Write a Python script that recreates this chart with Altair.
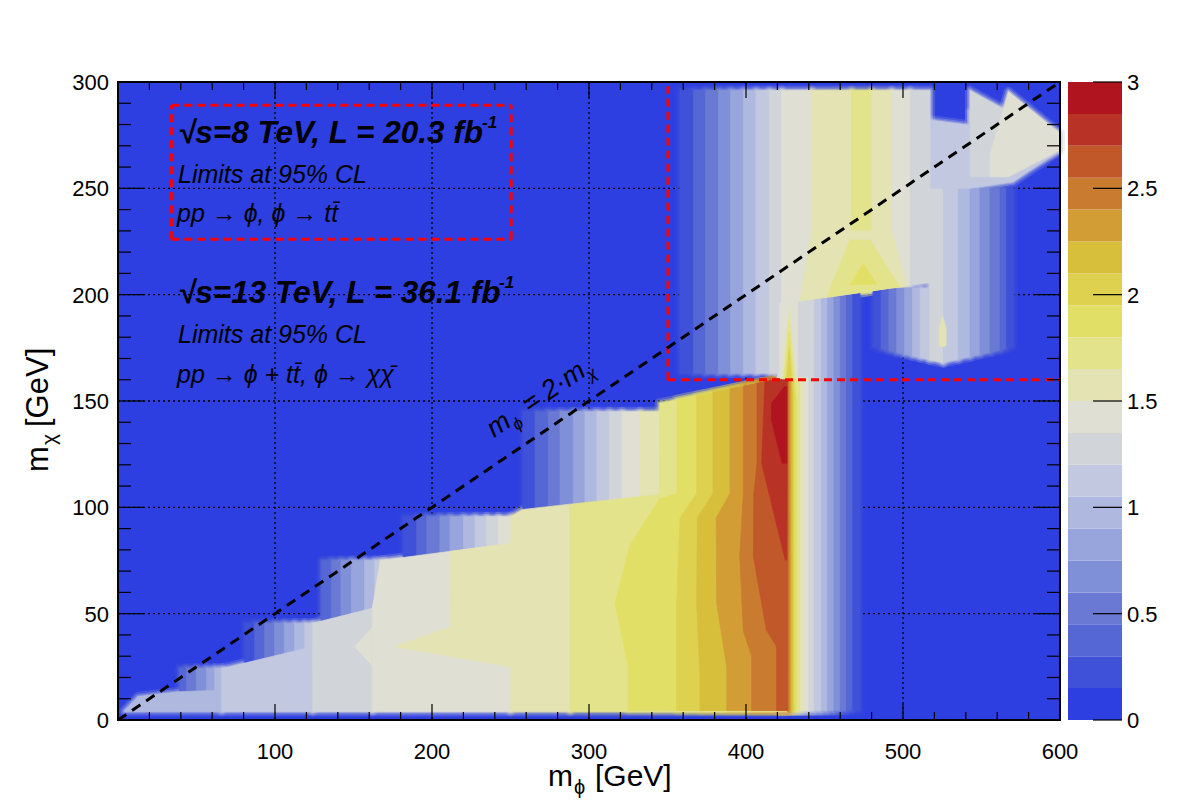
import altair as alt
import pandas as pd

PW, PH = 942, 638
FONT = "Liberation Sans"

# ---------------- colour levels ----------------
LEVEL_EDGES = [0.0, 0.15, 0.3, 0.45, 0.6, 0.75, 0.9, 1.05, 1.2, 1.35, 1.5,
               1.65, 1.8, 1.95, 2.1, 2.25, 2.4, 2.55, 2.7, 2.85, 3.0]
BAND_Z = [0.075, 0.225, 0.375, 0.525, 0.675, 0.825, 0.975, 1.125, 1.275, 1.425,
          1.575, 1.725, 1.875, 2.025, 2.175, 2.325, 2.475, 2.625, 2.775, 2.925]
PALETTE = ["#2d3fe0", "#4051d9", "#5566d5", "#6a7ad4", "#8090d8", "#98a5dc",
           "#afb9e0", "#c2c8e0", "#d1d5d9", "#dfe0d3", "#e3e3b3", "#e3e38c",
           "#e1df66", "#ddd14f", "#d8bf3b", "#d29d35", "#c97c30", "#c1582a",
           "#b83325", "#af141f"]

# ---------------- lower region: stripe blocks (edges, bands, y-range) ----------------
B1_X = [39.3, 43.5, 49.9, 56.3, 61.6, 66.0]
B1_BAND = [2, 3, 4, 5, 6]
B1_Y = [12.0, 24.3]
B2_X = [80.7, 87.0, 93.4, 99.8, 106.0, 112.5, 119.0, 124.0]
B2_BAND = [1, 2, 3, 4, 5, 6, 7]
B2_Y = [24.0, 45.5]
B3_X = [129.5, 136.0, 142.0, 148.6, 157.0, 163.5, 170.0]
B3_BAND = [2, 3, 4, 5, 6, 7]
B3_Y = [44.0, 75.0]
B4_X = [181.7, 190.2, 196.6, 205.0, 211.5, 220.0, 227.4, 234.8, 242.3, 250.0]
B4_BAND = [1, 2, 3, 4, 5, 6, 7, 8, 9]
B4_Y = [74.0, 95.6]
B5_X = [258.0, 265.6, 274.0, 281.5, 290.0, 297.4, 305.0, 313.0, 321.0, 332.5, 345.0]
B5_BAND = [1, 2, 3, 4, 5, 6, 7, 8, 9, 10]
B5_Y = [96.0, 145.0]

# plateaus / notches: (m_phi, m_chi low, m_chi high)
P0 = [(4.0, 4.0, 4.3), (12.7, 4.0, 11.0), (39.3, 4.0, 13.3), (66.0, 4.0, 14.0)]
P1 = [(66.0, 4.0, 24.3), (72.0, 4.0, 25.2), (124.0, 4.0, 34.5)]
P2 = [(124.0, 4.0, 45.5), (129.5, 4.0, 46.5), (162.0, 4.0, 52.5)]
N1 = [(150.7, 34.5, 34.5), (162.0, 25.5, 43.5)]
P3 = [(162.0, 4.0, 52.5), (167.0, 4.0, 75.0), (250.0, 4.0, 83.0)]
N2 = [(176.0, 34.5, 34.5), (212.0, 29.9, 43.9), (212.01, 29.9, 79.3), (250.0, 25.0, 83.0)]
P4A = [(250.0, 4.0, 95.6), (258.0, 4.0, 99.0), (288.0, 4.0, 101.5)]
P4B = [(288.0, 4.0, 101.5), (345.0, 4.0, 106.0), (345.01, 4.0, 149.0), (426.0, 4.0, 161.0)]
PLATEAU_BANDS = [6, 7, 8, 9, 9, 10, 10, 11]

# falling edge right of the peak
DROP_BAND = [1, 2, 3, 4, 5, 6, 7, 8, 9, 10, 11]
DROP_XR = [472.5, 467.5, 463.5, 459.5, 455.5, 451.5, 447.5, 443.0, 439.5, 436.5, 434.0]
DROP_TOP = [203.0, 203.0, 203.0, 203.0, 203.0, 203.0, 203.0, 203.0, 161.0, 161.0, 161.0]

# ---------------- upper region ----------------
LOBE_X = [481.0, 486.0, 491.0, 496.0, 501.0, 506.0, 511.0, 517.0]
LOBE_BAND = [1, 2, 3, 4, 5, 6, 7]
LOBE_BOT = [175.4, 174.6, 173.7, 172.9, 172.0, 171.2, 170.4, 169.4]
RS_X = [517.0, 525.7, 535.2, 542.7, 549.0, 555.4, 561.8, 566.0, 570.3]
RS_BAND = [8, 7, 6, 5, 4, 3, 2, 1]
RS_BOT = [169.4, 168.0, 169.6, 170.8, 171.9, 172.9, 174.0, 174.7, 175.4]
SPIKE = [(523.0, 176.0, 184.0), (525.2, 175.5, 190.0), (527.5, 176.0, 184.0)]
R7 = [(517.2, 250.0, 282.1), (542.7, 250.0, 279.7), (542.71, 250.0, 286.0),
      (570.0, 253.0, 283.0), (600.0, 268.0, 276.0)]
T1 = [(542.7, 255.4, 296.0), (567.2, 255.4, 286.0)]
T2 = [(555.6, 255.4, 266.0), (567.2, 255.4, 295.4), (600.0, 268.0, 275.8)]
U_X = [358.0, 366.5, 374.3, 382.4, 390.2, 398.3, 406.4, 414.9, 422.7, 441.8,
       467.3, 480.1, 492.8, 504.5, 517.2]
U_BAND = [1, 2, 3, 4, 5, 6, 7, 8, 9, 10, 11, 10, 9, 8]
U_BOT = [(163.0, 163.0)] * 8 + [(196.0, 197.8), (197.8, 200.5), (200.5, 201.8),
                                (201.8, 203.2), (203.2, 204.4), (204.4, 205.7)]
U_TOP = 296.0
F10 = [(434.4, 197.0, 197.0), (441.8, 197.8, 230.0), (492.8, 203.2, 230.0), (502.3, 204.2, 204.2)]
F11 = [(451.4, 198.8, 198.8), (466.2, 200.3, 225.7), (479.0, 201.7, 225.7), (498.0, 203.7, 203.7)]
F12 = [(466.0, 204.5, 204.5), (474.7, 204.8, 214.7), (483.2, 205.0, 205.0)]

# ---------------- hot core: (m_chi, m_phi left, m_phi right) ----------------
H12 = [(4.5, 325.0, 432.0), (25.0, 325.0, 432.0), (55.0, 316.6, 432.0), (82.0, 326.0, 432.0),
       (104.0, 345.0, 432.0), (106.5, 356.0, 432.0), (150.7, 356.0, 432.0), (160.9, 424.0, 431.0)]
H13 = [(4.5, 355.8, 430.5), (55.0, 355.8, 430.5), (95.0, 358.0, 430.5), (106.5, 368.6, 430.5),
       (152.5, 368.6, 430.5), (160.9, 424.0, 430.0)]
H14 = [(4.5, 370.7, 429.5), (20.0, 370.7, 429.5), (55.0, 368.6, 429.5), (95.0, 369.0, 429.5),
       (106.5, 379.0, 429.5), (154.1, 379.0, 429.5), (160.9, 424.0, 429.0)]
H15 = [(4.5, 387.7, 428.5), (25.0, 387.7, 428.5), (55.0, 381.3, 428.5), (95.0, 381.0, 428.5),
       (106.5, 389.8, 428.5), (155.7, 389.8, 428.5), (160.9, 424.0, 428.5)]
H16 = [(4.5, 403.6, 427.5), (30.0, 403.6, 427.5), (42.0, 398.3, 427.5), (77.0, 396.0, 427.5),
       (106.5, 398.3, 427.5), (157.0, 398.3, 427.5), (160.9, 424.0, 427.5)]
H17 = [(4.5, 419.5, 426.5), (34.5, 419.5, 426.5), (42.3, 413.0, 426.5), (76.8, 404.7, 426.5),
       (106.0, 405.0, 426.5), (120.7, 407.0, 426.5), (158.3, 407.0, 426.5), (160.9, 424.0, 426.5)]
H18 = [(75.2, 425.0, 426.0), (120.7, 410.0, 426.2), (159.0, 412.0, 426.2), (160.9, 424.0, 426.0)]
H19 = [(120.7, 423.0, 426.0), (141.0, 416.3, 426.0), (149.0, 416.3, 426.0), (156.7, 424.5, 426.0)]
HOT_BANDS = [12, 13, 14, 15, 16, 17, 18, 19]

# neck joining the two regions
NECK9 = [(421.5, 160.5, 196.0), (433.0, 160.5, 197.2)]
NECK10 = [(423.0, 160.5, 160.5), (427.5, 160.5, 195.0), (432.0, 160.5, 160.5)]
NECK11 = [(424.0, 160.5, 160.5), (427.5, 160.5, 189.0), (431.0, 160.5, 160.5)]
NECK12 = [(425.0, 160.5, 160.5), (427.5, 160.5, 182.0), (430.0, 160.5, 160.5)]
NECK13 = [(426.0, 160.5, 160.5), (427.5, 160.5, 175.0), (429.0, 160.5, 160.5)]
NECK_BANDS = [9, 10, 11, 12, 13]

# axes / annotations
XT_LABELS = [100, 200, 300, 400, 500, 600]
YT_LABELS = [0, 50, 100, 150, 200, 250, 300]
CB_TICKS = [0, 0.5, 1, 1.5, 2, 2.5, 3]
CB_LABELS = ["0", "0.5", "1", "1.5", "2", "2.5", "3"]
GRID_X = [100, 200, 300, 400, 500]
GRID_Y = [50, 100, 150, 200, 250]
DIAG_X = [0, 600]
DIAG_Y = [0, 300]
BOX1 = [(34.0, 226.0, 250.4, 226.0), (34.0, 289.1, 250.4, 289.1),
        (34.0, 226.0, 34.0, 289.1), (250.4, 226.0, 250.4, 289.1)]
BOX2 = [(350.3, 160.0, 600.0, 160.0), (350.3, 160.0, 350.3, 298.0)]

# ---------------- build tables ----------------
vrows, hrows, nrows = [], [], []
counter = [0]


def add(rows, pts, band, horizontal=False):
    sid = "s%04d" % counter[0]
    counter[0] += 1
    for p in pts:
        if horizontal:
            rows.append({"sid": sid, "y": p[0], "xlo": p[1], "xhi": p[2], "z": BAND_Z[band]})
        else:
            rows.append({"sid": sid, "x": p[0], "ylo": p[1], "yhi": p[2], "z": BAND_Z[band]})


def add_block(xs, bands, yr):
    for i, b in enumerate(bands):
        add(vrows, [(xs[i], yr[0], yr[1]), (xs[i + 1], yr[0], yr[1])], b)


for xs_, bs, yr in [(B1_X, B1_BAND, B1_Y), (B2_X, B2_BAND, B2_Y), (B3_X, B3_BAND, B3_Y),
                    (B4_X, B4_BAND, B4_Y), (B5_X, B5_BAND, B5_Y)]:
    add_block(xs_, bs, yr)
for pts, b in zip([P0, P1, P2, N1, P3, N2, P4A, P4B], PLATEAU_BANDS):
    add(vrows, pts, b)
for b, xr, top in zip(DROP_BAND, DROP_XR, DROP_TOP):
    add(vrows, [(420.0, 4.5, top), (xr, 4.5, top)], b)
for i, b in enumerate(LOBE_BAND):
    add(vrows, [(LOBE_X[i], LOBE_BOT[i], 203.0), (LOBE_X[i + 1], LOBE_BOT[i + 1], 203.0)], b)
for i, b in enumerate(RS_BAND):
    add(vrows, [(RS_X[i], RS_BOT[i], 250.0), (RS_X[i + 1], RS_BOT[i + 1], 250.0)], b)
add(vrows, SPIKE, 10)
add(vrows, R7, 7)
add(vrows, T1, 8)
add(vrows, T2, 9)
for i, b in enumerate(U_BAND):
    add(vrows, [(U_X[i], U_BOT[i][0], U_TOP), (U_X[i + 1], U_BOT[i][1], U_TOP)], b)
add(vrows, F10, 10)
add(vrows, F11, 11)
add(vrows, F12, 12)
for pts, b in zip([H12, H13, H14, H15, H16, H17, H18, H19], HOT_BANDS):
    add(hrows, pts, b, horizontal=True)
for pts, b in zip([NECK9, NECK10, NECK11, NECK12, NECK13], NECK_BANDS):
    add(nrows, pts, b)

dfV = pd.DataFrame(vrows)
dfH = pd.DataFrame(hrows)
dfN = pd.DataFrame(nrows)

xs = alt.Scale(domain=[0, 600], nice=False, zero=False)
ys = alt.Scale(domain=[0, 300], nice=False, zero=False)
cscale = alt.Scale(type="threshold", domain=LEVEL_EDGES[1:-1], range=PALETTE)
one = pd.DataFrame({"a": [0]})

background = alt.Chart(one).mark_rect(color=PALETTE[0]).encode(
    x=alt.value(0), x2=alt.value(PW), y=alt.value(0), y2=alt.value(PH))


def varea(df, halo=None):
    if halo is None:
        m = alt.Chart(df).mark_area(strokeWidth=0.7, interpolate="linear")
    else:
        m = alt.Chart(df).mark_area(fillOpacity=0, strokeWidth=halo[0], strokeOpacity=halo[1],
                                    strokeJoin="round", interpolate="linear")
    return m.encode(
        x=alt.X("x:Q", scale=xs, axis=None),
        y=alt.Y("ylo:Q", scale=ys, axis=None),
        y2="yhi:Q",
        color=alt.Color("z:Q", scale=cscale, legend=None),
        stroke=alt.Stroke("z:Q", scale=cscale, legend=None),
        detail="sid:N",
    )


def harea(df, halo=None):
    if halo is None:
        m = alt.Chart(df).mark_area(orient="horizontal", strokeWidth=0.7, interpolate="linear")
    else:
        m = alt.Chart(df).mark_area(orient="horizontal", fillOpacity=0, strokeWidth=halo[0],
                                    strokeOpacity=halo[1], strokeJoin="round", interpolate="linear")
    return m.encode(
        y=alt.Y("y:Q", scale=ys, axis=None),
        x=alt.X("xlo:Q", scale=xs, axis=None),
        x2="xhi:Q",
        color=alt.Color("z:Q", scale=cscale, legend=None),
        stroke=alt.Stroke("z:Q", scale=cscale, legend=None),
        detail="sid:N",
    )


HALOS = [(10, 0.18), (6, 0.3), (3, 0.45)]
halo_layers = []
for h in HALOS:
    halo_layers += [varea(dfV, h), harea(dfH, h), varea(dfN, h)]

areaV = varea(dfV)
areaN = varea(dfN)
areaH = harea(dfH)

grid_v = alt.Chart(pd.DataFrame({"g": GRID_X})).mark_rule(
    color="black", strokeWidth=1.3, strokeDash=[2, 3]).encode(
    x=alt.X("g:Q", scale=xs, axis=None), y=alt.value(0), y2=alt.value(PH))
grid_h = alt.Chart(pd.DataFrame({"g": GRID_Y})).mark_rule(
    color="black", strokeWidth=1.3, strokeDash=[2, 3]).encode(
    y=alt.Y("g:Q", scale=ys, axis=None), x=alt.value(0), x2=alt.value(PW))

boxes = pd.DataFrame([{"x": a, "y": b, "x2": c, "y2": d} for (a, b, c, d) in BOX1 + BOX2])
box_layer = alt.Chart(boxes).mark_rule(color="#ff0000", strokeWidth=3, strokeDash=[8, 5]).encode(
    x=alt.X("x:Q", scale=xs, axis=None), y=alt.Y("y:Q", scale=ys, axis=None),
    x2="x2:Q", y2="y2:Q")

diag = alt.Chart(pd.DataFrame({"x": DIAG_X, "y": DIAG_Y})).mark_line(
    color="black", strokeWidth=3, strokeDash=[10, 7]).encode(
    x=alt.X("x:Q", scale=xs, axis=None), y=alt.Y("y:Q", scale=ys, axis=None))

XT_MAJOR = [100, 200, 300, 400, 500]
XT_MINOR = [v for v in range(20, 600, 20) if v % 100]
YT_MAJOR = [50, 100, 150, 200, 250]
YT_MINOR = [v for v in range(10, 300, 10) if v % 50]


def xticks(vals, length):
    d = pd.DataFrame({"t": vals})
    b = alt.Chart(d).mark_rule(color="black", strokeWidth=1.2)
    return [b.encode(x=alt.X("t:Q", scale=xs, axis=None), y=alt.value(PH), y2=alt.value(PH - length)),
            b.encode(x=alt.X("t:Q", scale=xs, axis=None), y=alt.value(0), y2=alt.value(length))]


def yticks(vals, length):
    d = pd.DataFrame({"t": vals})
    b = alt.Chart(d).mark_rule(color="black", strokeWidth=1.2)
    return [b.encode(y=alt.Y("t:Q", scale=ys, axis=None), x=alt.value(0), x2=alt.value(length)),
            b.encode(y=alt.Y("t:Q", scale=ys, axis=None), x=alt.value(PW), x2=alt.value(PW - length))]


tick_layers = xticks(XT_MAJOR, 16) + xticks(XT_MINOR, 8) + yticks(YT_MAJOR, 26) + yticks(YT_MINOR, 13)

frame = alt.Chart(one).mark_rect(fillOpacity=0, stroke="black", strokeWidth=2).encode(
    x=alt.value(0), x2=alt.value(PW), y=alt.value(0), y2=alt.value(PH))

xlab = alt.Chart(pd.DataFrame({"v": XT_LABELS, "s": [str(v) for v in XT_LABELS]})).mark_text(
    font=FONT, fontSize=22, align="center", baseline="alphabetic", color="black").encode(
    x=alt.X("v:Q", scale=xs, axis=None), y=alt.value(PH + 39), text="s:N")
ylab = alt.Chart(pd.DataFrame({"v": YT_LABELS, "s": [str(v) for v in YT_LABELS]})).mark_text(
    font=FONT, fontSize=22, align="right", baseline="middle", color="black", dy=1).encode(
    y=alt.Y("v:Q", scale=ys, axis=None), x=alt.value(-9), text="s:N")

cb = pd.DataFrame({"lo": LEVEL_EDGES[:-1], "hi": LEVEL_EDGES[1:], "z": BAND_Z})
cbar = alt.Chart(cb).transform_calculate(a="datum.lo*100", b="datum.hi*100").mark_rect().encode(
    y=alt.Y("a:Q", scale=ys, axis=None), y2="b:Q", x=alt.value(950), x2=alt.value(1004),
    color=alt.Color("z:Q", scale=cscale, legend=None))
cbt = pd.DataFrame({"t": CB_TICKS, "s": CB_LABELS})
cbar_ticks = alt.Chart(cbt).transform_calculate(a="datum.t*100").mark_rule(
    color="black", strokeWidth=1.2).encode(
    y=alt.Y("a:Q", scale=ys, axis=None), x=alt.value(975), x2=alt.value(1004))
cbar_lab = alt.Chart(cbt).transform_calculate(a="datum.t*100").mark_text(
    font=FONT, fontSize=22, align="left", baseline="middle", color="black", dy=1).encode(
    y=alt.Y("a:Q", scale=ys, axis=None), x=alt.value(1009), text="s:N")


def txt(s, x, y, size, style="italic", weight="normal", angle=0, dx=0, dy=0, align="left"):
    return alt.Chart(one).mark_text(text=s, font=FONT, fontSize=size, fontStyle=style,
                                    fontWeight=weight, align=align, baseline="alphabetic",
                                    color="black", angle=angle, dx=dx, dy=dy).encode(
        x=alt.value(x), y=alt.value(y))


PHI = "\u03d5"
texts = [
    txt("\u221as=8 TeV, L = 20.3 fb", 60, 61, 31.5, weight="bold"),
    txt("-1", 364, 46, 17, weight="bold"),
    txt("Limits at 95% CL", 60, 101, 25),
    txt("pp \u2192 " + PHI + ", " + PHI + " \u2192 tt\u0304", 59, 140, 25),
    txt("\u221as=13 TeV, L = 36.1 fb", 60, 221, 31.5, weight="bold"),
    txt("-1", 381, 206, 17, weight="bold"),
    txt("Limits at 95% CL", 60, 261, 25),
    txt("pp \u2192 " + PHI + " + tt\u0304, " + PHI + " \u2192 \u03c7\u03c7\u0304", 59, 301, 25),
    # diagonal label
    txt("m", 376, 356, 27, angle=325.9),
    txt(PHI, 376, 356, 17, angle=325.9, dx=23, dy=7),
    txt("= 2\u00b7m", 376, 356, 27, angle=325.9, dx=43),
    txt("\u03c7", 376, 356, 17, angle=325.9, dx=112, dy=7),
    # axis titles
    txt("m", 430, 704, 30, style="normal"),
    txt(PHI, 456, 712, 20, style="normal"),
    txt("[GeV]", 477, 704, 30, style="normal"),
    txt("m", -70, 390, 31, style="normal", angle=270),
    txt("\u03c7", -62, 363, 21, style="normal", angle=270),
    txt("[GeV]", -70, 345, 31, style="normal", angle=270),
]

layers = [background, grid_v, grid_h] + halo_layers + [areaV, areaH, areaN, box_layer, diag] + \
         tick_layers + [frame, xlab, ylab, cbar, cbar_ticks, cbar_lab] + texts

chart = alt.layer(*layers).properties(
    width=PW, height=PH,
    autosize=alt.AutoSizeParams(type="none"),
    padding={"left": 118, "top": 82, "right": 122, "bottom": 83},
).configure_view(stroke=None).configure(background="white")

chart.save("out.html", embed_options={"renderer": "svg", "actions": False})
